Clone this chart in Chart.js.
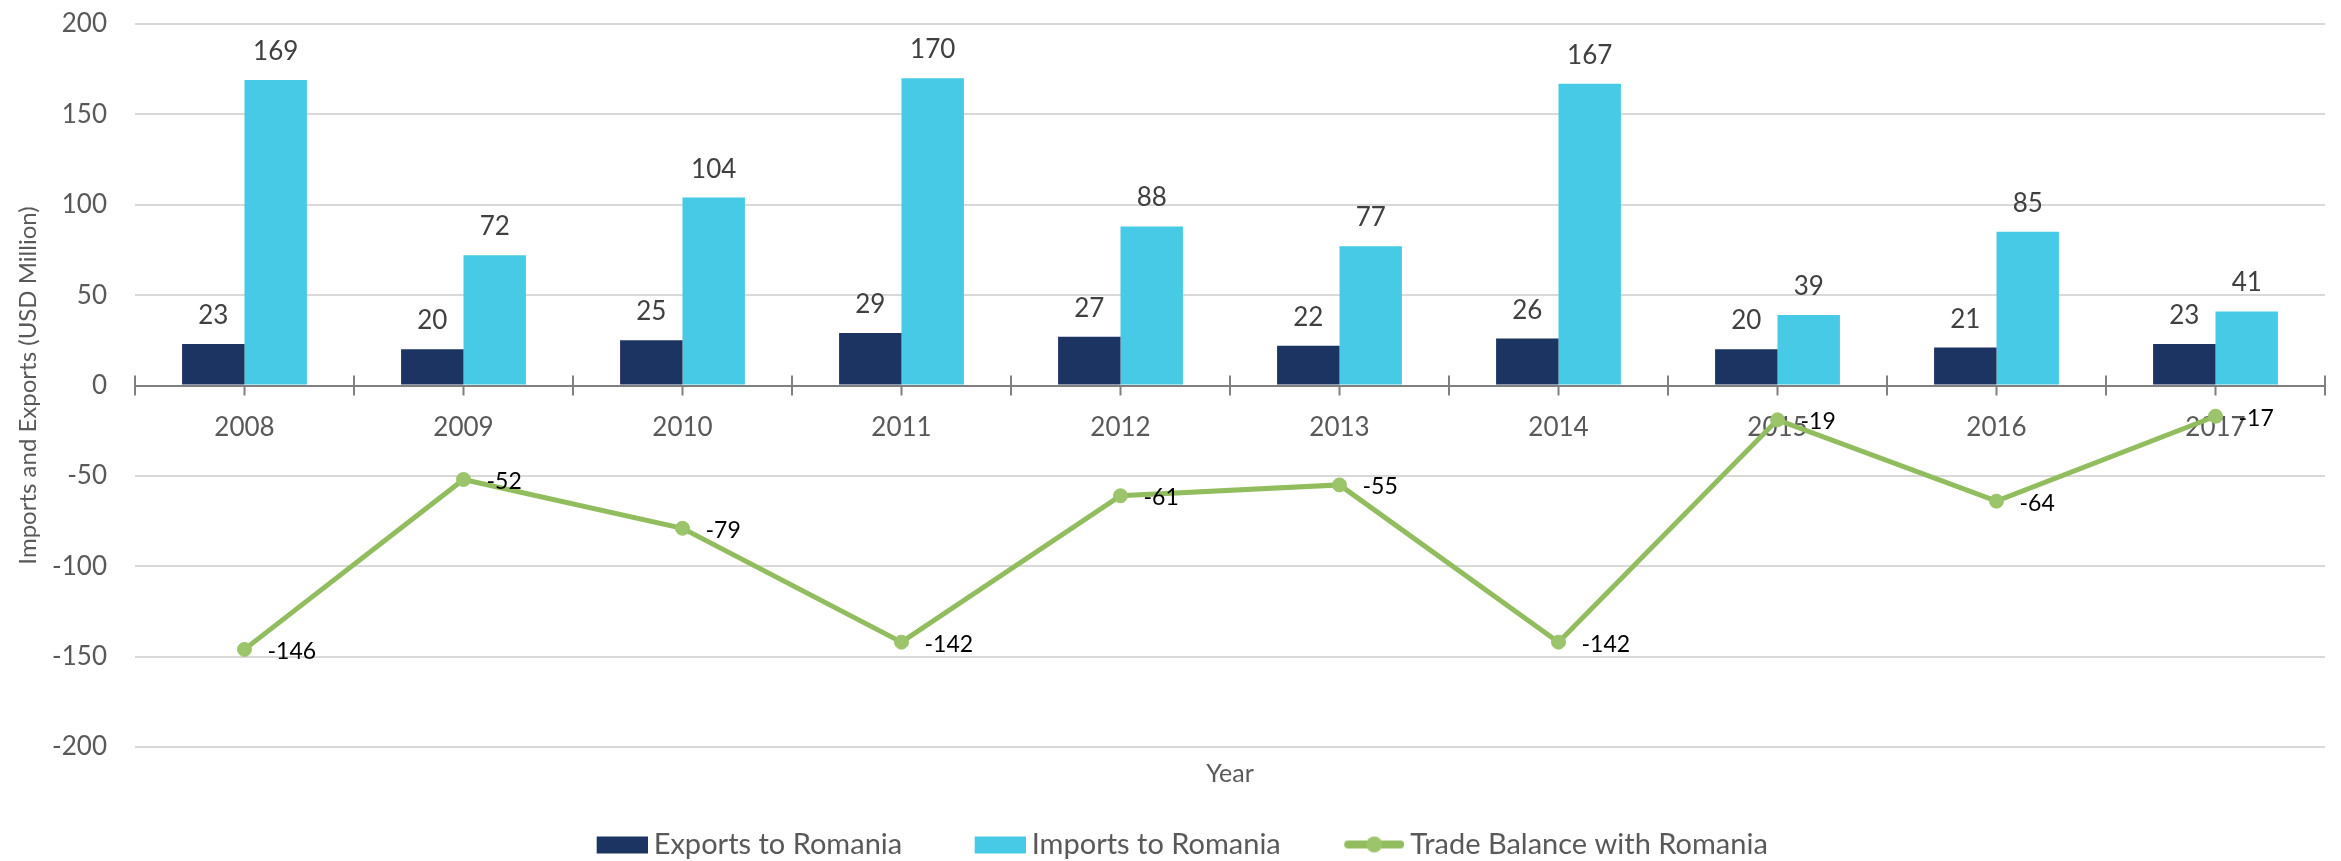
<!DOCTYPE html>
<html>
<head>
    <meta charset='utf-8'>
    <title>Trade with Romania</title>
    <script src='https://cdn.jsdelivr.net/npm/chart.js@4.4.1/dist/chart.umd.min.js'></script>
    <style>
        html, body { margin: 0; padding: 0; background: #fff; }
        #wrap { width: 2341px; height: 861px; }
    </style>
</head>
<body>
<div id="wrap"><canvas id="myChart"></canvas></div>
<script>
const years = ['2008', '2009', '2010', '2011', '2012', '2013', '2014', '2015', '2016', '2017'];
const exportsRo = [23, 20, 25, 29, 27, 22, 26, 20, 21, 23];
const importsRo = [169, 72, 104, 170, 88, 77, 167, 39, 85, 41];
const balanceRo = [-146, -52, -79, -142, -61, -55, -142, -19, -64, -17];
const yTicks = [-200, -150, -100, -50, 0, 50, 100, 150, 200];

const navy = '#1c3461';
const cyan = '#46cae6';
const green = '#92bd5f';
const fontName = 'Lato, "Open Sans", sans-serif';

// legend icons: shape sits at the right end so the gap to the text stays small
const legendFont = 29;
const legendBox = 74;
const iconW = legendBox + legendFont - 12;
function swatch(color) {
    const c = document.createElement('canvas');
    c.width = iconW; c.height = 20;
    const g = c.getContext('2d');
    g.fillStyle = color;
    g.fillRect(iconW - 51, 2, 51, 17);
    return c;
}
function lineIcon() {
    const c = document.createElement('canvas');
    c.width = iconW; c.height = 20;
    const g = c.getContext('2d');
    g.strokeStyle = green;
    g.lineWidth = 8;
    g.lineCap = 'round';
    g.beginPath(); g.moveTo(iconW - 56, 10); g.lineTo(iconW - 4, 10); g.stroke();
    g.fillStyle = '#9bc46b';
    g.beginPath(); g.arc(iconW - 30, 10, 8, 0, Math.PI * 2); g.fill();
    return c;
}
const icons = [swatch(navy), swatch(cyan), lineIcon()];

// small tick marks on the zero axis: boundaries go up, centres go down
const axisTicks = {
    id: 'axisTicks',
    beforeDatasetsDraw(chart) {
        const x = chart.scales.x, y = chart.scales.y;
        const y0 = y.getPixelForValue(0);
        const half = (x.getPixelForValue(1) - x.getPixelForValue(0)) / 2;
        const ctx = chart.ctx;
        ctx.save();
        ctx.strokeStyle = '#808080';
        ctx.lineWidth = 2;
        ctx.beginPath();
        years.forEach((yr, i) => {
            const cx = x.getPixelForValue(i);
            ctx.moveTo(cx - half, y0 - 10); ctx.lineTo(cx - half, y0 + 10);
            ctx.moveTo(cx, y0); ctx.lineTo(cx, y0 + 10);
            if (i === years.length - 1) { ctx.moveTo(cx + half, y0 - 10); ctx.lineTo(cx + half, y0 + 10); }
        });
        ctx.stroke();
        ctx.restore();
    }
};

const valueLabels = {
    id: 'valueLabels',
    afterDatasetsDraw(chart) {
        const ctx = chart.ctx;
        ctx.save();
        chart.data.datasets.forEach((ds, i) => {
            const meta = chart.getDatasetMeta(i);
            meta.data.forEach((el, j) => {
                const v = ds.data[j];
                if (ds.type === 'line') {
                    ctx.font = '23px ' + fontName;
                    ctx.fillStyle = '#000';
                    ctx.textAlign = 'left';
                    ctx.textBaseline = 'middle';
                    ctx.fillText(v, el.x + 23, el.y + 2);
                } else {
                    ctx.font = '26px ' + fontName;
                    ctx.fillStyle = '#404040';
                    ctx.textAlign = 'center';
                    ctx.textBaseline = 'alphabetic';
                    ctx.fillText(v, el.x, el.y - 20);
                }
            });
        });
        ctx.restore();
    }
};

const ctx = document.getElementById('myChart').getContext('2d');
const myChart = new Chart(ctx, {
    type: 'bar',
    data: {
        labels: years,
        datasets: [{
            label: 'Exports to Romania',
            data: exportsRo,
            backgroundColor: navy,
            categoryPercentage: 0.57,
            barPercentage: 1
        }, {
            label: 'Imports to Romania',
            data: importsRo,
            backgroundColor: cyan,
            categoryPercentage: 0.57,
            barPercentage: 1
        }, {
            type: 'line',
            label: 'Trade Balance with Romania',
            data: balanceRo,
            borderColor: green,
            borderWidth: 5,
            pointRadius: 7,
            pointBackgroundColor: '#9bc46b',
            pointBorderColor: '#9bc46b',
            pointBorderWidth: 1,
            tension: 0,
            fill: false
        }]
    },
    options: {
        responsive: true,
        maintainAspectRatio: false,
        animation: false,
        layout: { padding: { left: 8, right: 16, top: 24, bottom: -8 } },
        plugins: {
            tooltip: { enabled: false },
            legend: {
                position: 'bottom',
                labels: {
                    color: '#595959',
                    font: { family: fontName, size: legendFont },
                    usePointStyle: true,
                    pointStyleWidth: legendBox,
                    padding: 41,
                    generateLabels(chart) {
                        return chart.data.datasets.map((ds, i) => ({
                            text: ds.label,
                            pointStyle: icons[i],
                            fillStyle: 'transparent',
                            strokeStyle: 'transparent',
                            lineWidth: 0,
                            fontColor: '#595959',
                            datasetIndex: i,
                            hidden: false
                        }));
                    }
                }
            }
        },
        scales: {
            x: {
                position: { y: 0 },
                grid: {
                    offset: true,
                    drawOnChartArea: false,
                    drawTicks: false,
                    tickLength: 10
                },
                border: { color: '#808080', width: 2 },
                ticks: {
                    color: '#595959',
                    font: { family: fontName, size: 26 },
                    padding: 27
                }
            },
            x2: {
                type: 'category',
                position: 'bottom',
                labels: years,
                grid: { display: false },
                border: { display: false },
                ticks: { display: false },
                title: {
                    display: true,
                    text: 'Year',
                    color: '#595959',
                    font: { family: fontName, size: 25 },
                    padding: { top: 4, bottom: 0 }
                }
            },
            y: {
                min: -200,
                max: 200,
                afterBuildTicks(axis) {
                    axis.ticks = yTicks.map(v => ({ value: v }));
                },
                afterFit(axis) {
                    axis.width = 127;
                    axis.paddingTop = 0;
                    axis.paddingBottom = 0;
                },
                grid: {
                    color: '#d9d9d9',
                    lineWidth: 2,
                    drawTicks: false
                },
                border: { display: false },
                ticks: {
                    color: '#595959',
                    font: { family: fontName, size: 26 },
                    padding: 28
                },
                title: {
                    display: true,
                    text: 'Imports and Exports (USD Million)',
                    color: '#595959',
                    font: { family: fontName, size: 24 },
                    padding: { top: 6, bottom: 0 }
                }
            }
        }
    },
    plugins: [axisTicks, valueLabels]
});
</script>
</body>
</html>
